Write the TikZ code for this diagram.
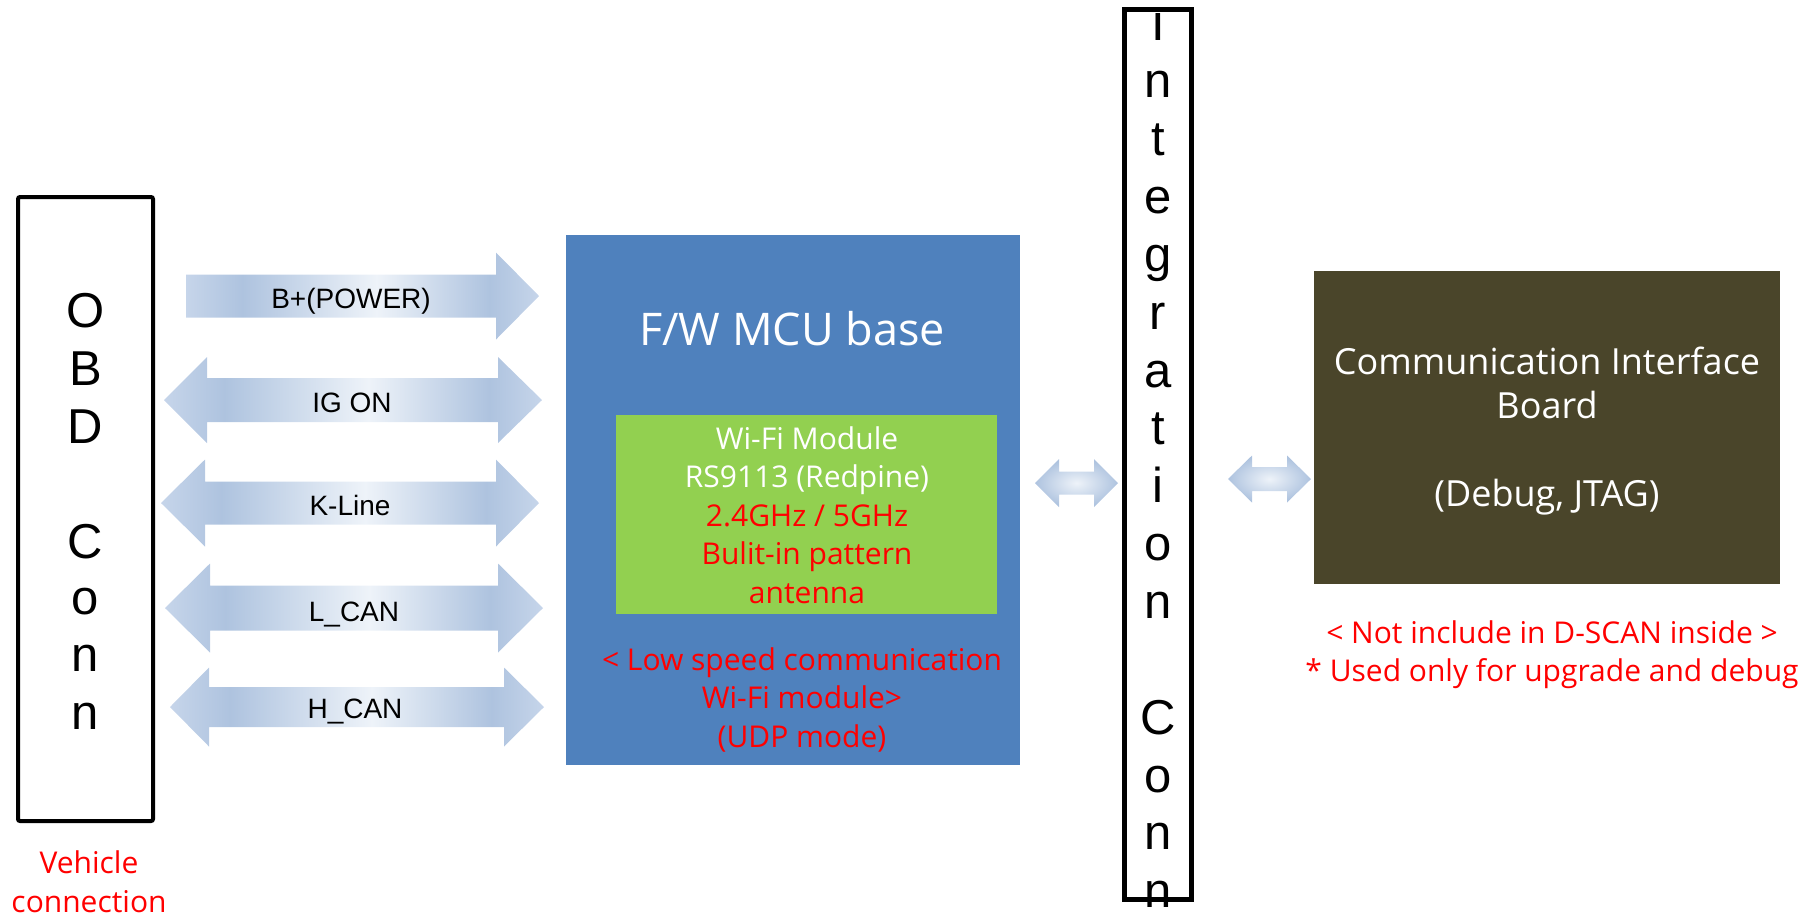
\documentclass[tikz,border=0pt]{standalone}
\usepackage{fontspec}
\newfontfamily\osans{Open Sans}
\newfontfamily\lsans{Liberation Sans}
\definecolor{mcublue}{HTML}{4F81BD}
\definecolor{wifigreen}{HTML}{92D050}
\definecolor{boardolive}{HTML}{4A452A}
\definecolor{adark}{HTML}{AEC3DF}
\definecolor{alight}{HTML}{EEF3F9}
\definecolor{atip}{HTML}{C6D5EA}
\definecolor{txtred}{HTML}{FF0000}
\pgfdeclarehorizontalshading{bigarrow}{100bp}{color(0bp)=(atip); color(25bp)=(atip); color(33bp)=(adark); color(52bp)=(alight); color(68bp)=(adark); color(75bp)=(atip); color(100bp)=(atip)}
\newcommand{\blockdbl}[8]{%
  \path[#1] (#2,#6) -- (#3,{#6-#8}) -- (#3,{#6-#7}) -- (#4,{#6-#7}) -- (#4,{#6-#8})
    -- (#5,#6) -- (#4,{#6+#8}) -- (#4,{#6+#7}) -- (#3,{#6+#7}) -- (#3,{#6+#8}) -- cycle;}
\tikzset{
  box/.style={inner sep=0pt, outer sep=0pt},
  conbox/.style={box, draw=black, line width=2pt, rounded corners=1pt},
  letter/.style={font=\lsans\fontsize{24.5}{29}\selectfont, anchor=base, inner sep=0pt},
  lbl/.style={font=\lsans\fontsize{14}{17}\selectfont, anchor=base, inner sep=0pt},
  wtxt/.style={font=\osans\fontsize{15}{18}\selectfont, text=white, anchor=base, inner sep=0pt},
  rtxt/.style={font=\osans\fontsize{15}{18}\selectfont, text=txtred, anchor=base, inner sep=0pt},
  bigshade/.style={shading=bigarrow, draw=none},
  smallshade/.style={inner color=alight, outer color=adark, draw=none},
}
\begin{document}
\begin{tikzpicture}[x=0.5pt, y=-0.5pt]
\useasboundingbox (0,0) rectangle (1814,918);

% OBD connector
\node[conbox, minimum width=67.5pt, minimum height=312pt] (obd) at (85.5,509) {};
\foreach \ch/\yy [count=\k] in {O/327,B/385,D/443,C/558,o/614,n/671,n/729}
  \node[letter] (obd\k) at (85.5,\yy) {\ch};
\node[rtxt] (veh1) at (89,873) {Vehicle};
\node[rtxt] (veh2) at (89,912) {connection};

% signal arrows
\path[bigshade] (186,274.5) -- (496,274.5) -- (496,252.5) -- (539,296) -- (496,339.5) -- (496,317.5) -- (186,317.5) -- cycle;
\node[lbl] (bplus) at (351,308) {B+(POWER)};
\blockdbl{bigshade}{164}{207}{498}{542}{400}{22}{43}
\node[lbl] (igon) at (352,412) {IG ON};
\blockdbl{bigshade}{161}{205}{496}{539}{503}{21.5}{43.5}
\node[lbl] (kline) at (350,515) {K-Line};
\blockdbl{bigshade}{165}{210}{498}{543}{608}{22.5}{44.5}
\node[lbl] (lcan) at (354,621) {L\_CAN};
\blockdbl{bigshade}{170}{209}{504}{544}{707}{20}{39.5}
\node[lbl] (hcan) at (355,718) {H\_CAN};

% MCU block
\node[box, fill=mcublue, minimum width=227pt, minimum height=265pt] (mcu) at (793,500) {};
\node[font=\osans\fontsize{22.5}{27}\selectfont, text=white, anchor=base, inner sep=0pt] (mcutitle) at (792,345) {F/W MCU base};
\node[box, fill=wifigreen, minimum width=190.5pt, minimum height=99.5pt] (wifi) at (806.5,514.5) {};
\node[wtxt] (w1) at (807,449) {Wi-Fi Module};
\node[wtxt] (w2) at (807,487.5) {RS9113 (Redpine)};
\node[rtxt] (w3) at (807,526) {2.4GHz / 5GHz};
\node[rtxt] (w4) at (807,564.5) {Bulit-in pattern};
\node[rtxt] (w5) at (807,603) {antenna};
\node[rtxt] (m1) at (802,670) {< Low speed communication};
\node[rtxt] (m2) at (802,708.5) {Wi-Fi module>};
\node[rtxt] (m3) at (802,747) {(UDP mode)};

% small arrows
\blockdbl{smallshade}{1035}{1059}{1094}{1118}{483}{11.5}{24}
\blockdbl{smallshade}{1228}{1252}{1287}{1311}{479}{12}{23.5}

% integration connector
\begin{scope}
  \clip (1100,13) rectangle (1220,908);
  \foreach \ch/\k in {I/0,n/1,t/2,e/3,g/4,r/5,a/6,t/7,i/8,o/9,n/10,C/12,o/13,n/14,n/15}
    \node[letter] (ic\k) at (1158,{40+57.85*\k}) {\ch};
\end{scope}
\node[box, draw=black, line width=2.5pt, minimum width=33.5pt, minimum height=445pt] (integ) at (1158,454.5) {};

% communication interface board
\node[box, fill=boardolive, minimum width=233pt, minimum height=156.5pt] (board) at (1547,427.5) {};
\node[wtxt, font=\osans\fontsize{18}{22}\selectfont] (b1) at (1547,374) {Communication Interface};
\node[wtxt, font=\osans\fontsize{18}{22}\selectfont] (b2) at (1547,418) {Board};
\node[wtxt, font=\osans\fontsize{18}{22}\selectfont] (b3) at (1547,506) {(Debug, JTAG)};
\node[rtxt] (n1) at (1552,643) {< Not include in D-SCAN inside >};
\node[rtxt] (n2) at (1552,681) {* Used only for upgrade and debug};
\end{tikzpicture}
\end{document}
